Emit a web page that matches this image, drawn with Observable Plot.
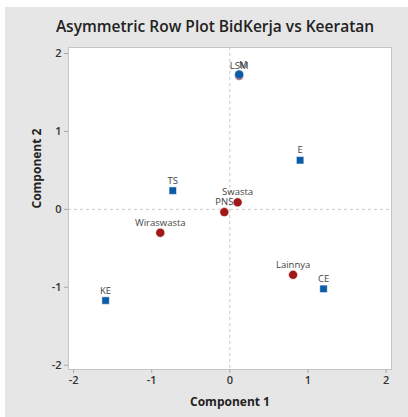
<!DOCTYPE html>
<html><head><meta charset="utf-8">
<script src="https://cdn.jsdelivr.net/npm/d3@7"></script>
<script src="https://cdn.jsdelivr.net/npm/@observablehq/plot@0.6"></script>
<style>
html,body{margin:0;padding:0;background:#fff;width:408px;height:417px;overflow:hidden;font-family:"Open Sans",sans-serif;}
#bg{position:absolute;left:5px;top:7px;right:0;bottom:0;background:#e6e6e6;}
#chart{position:absolute;left:0;top:0;}
#title{position:absolute;left:0;width:430px;top:15px;text-align:center;font-size:15.5px;font-weight:600;color:#222;font-family:"Open Sans",sans-serif;}
</style></head>
<body>
<div id="bg"></div>
<div id="title">Asymmetric Row Plot BidKerja vs Keeratan</div>
<div id="chart"></div>
<script>
const rowLabels = ["Swasta", "PNS", "Wiraswasta", "Lainnya", "LSM"];
const rowX = [0.10, -0.07, -0.89, 0.81, 0.12];
const rowY = [0.09, -0.035, -0.30, -0.84, 1.715];
const colLabels = ["TS", "E", "KE", "CE"];
const colX = [-0.73, 0.90, -1.59, 1.20];
const colY = [0.24, 0.63, -1.17, -1.02];
const extraLabels = ["M"];
const extraX = [0.12];
const extraY = [1.73];
const ticks = [-2, -1, 0, 1, 2];
const tickLabels = ["-2", "-1", "0", "1", "2"];

const rows = rowLabels.map((l, i) => ({label: l, x: rowX[i], y: rowY[i]}));
const cols = colLabels.map((l, i) => ({label: l, x: colX[i], y: colY[i]}));
const extra = extraLabels.map((l, i) => ({label: l, x: extraX[i], y: extraY[i]}));
const fmt = d => tickLabels[ticks.indexOf(d)];

const blue = "#0d5aa7", red = "#a01818";
const plot = Plot.plot({
  width: 408, height: 417,
  marginLeft: 68, marginRight: 17, marginTop: 47, marginBottom: 48,
  style: {background: "transparent", fontFamily: "Open Sans, sans-serif"},
  x: {domain: [-2.065, 2.07]},
  y: {domain: [-2.055, 2.077]},
  marks: [
    Plot.frame({fill: "white", stroke: "#c6c6c6"}),
    Plot.ruleX([0], {stroke: "#c8c8c8", strokeDasharray: "3,3"}),
    Plot.ruleY([0], {stroke: "#c8c8c8", strokeDasharray: "3,3"}),
    Plot.axisX({ticks, tickFormat: fmt, tickSize: 4, stroke: "#aaa", fontSize: 11, fontWeight: 600, fill: "#333", tickPadding: 3, label: null}),
    Plot.axisY({ticks, tickFormat: fmt, tickSize: 4, stroke: "#aaa", fontSize: 11, fontWeight: 600, fill: "#333", tickPadding: 3, label: null}),
    Plot.text(["Component 1"], {frameAnchor: "bottom", dy: 36, fontSize: 12, fontWeight: 700, fill: "#222"}),
    Plot.text(["Component 2"], {frameAnchor: "left", dx: -31, rotate: -90, fontSize: 12, fontWeight: 700, fill: "#222"}),
    Plot.dot(rows, {x: "x", y: "y", r: 4.5, fill: red, stroke: "white", strokeWidth: 0.5}),
    Plot.dot(extra, {x: "x", y: "y", r: 4.5, fill: blue, stroke: "white", strokeWidth: 0.5}),
    Plot.dot(cols, {x: "x", y: "y", symbol: "square", r: 4.2, fill: blue, stroke: "white", strokeWidth: 0.5}),
    Plot.text(rows, {x: "x", y: "y", text: "label", dy: -10, fontSize: 9.5, fill: "#444"}),
    Plot.text(cols, {x: "x", y: "y", text: "label", dy: -10, fontSize: 9.5, fill: "#444"}),
    Plot.text(extra, {x: "x", y: "y", text: "label", dy: -10, dx: 4, fontSize: 9.5, fill: "#444"})
  ]
});
document.getElementById("chart").appendChild(plot);
</script>
</body></html>
